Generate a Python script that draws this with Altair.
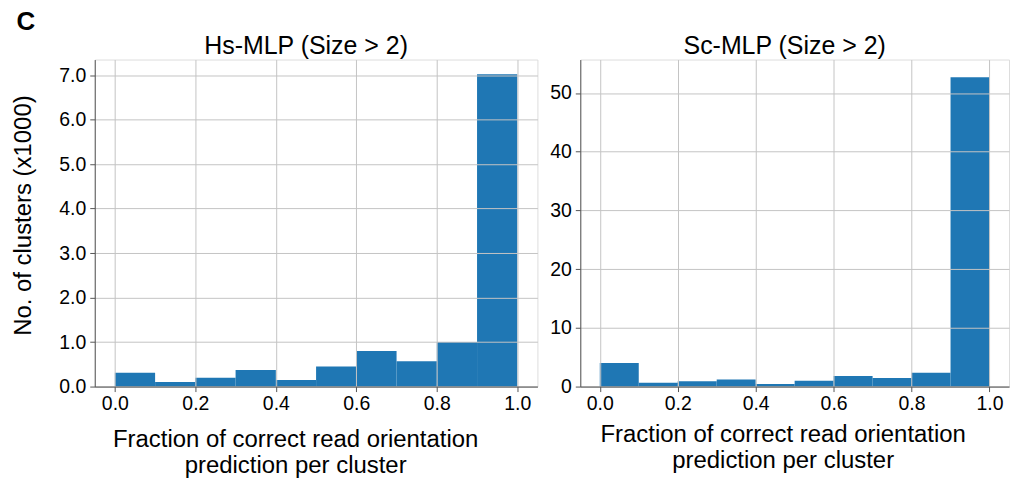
import altair as alt
import pandas as pd

# ---- data ----
bin_start = [0.0, 0.1, 0.2, 0.3, 0.4, 0.5, 0.6, 0.7, 0.8, 0.9]
bin_end = [0.1, 0.2, 0.3, 0.4, 0.5, 0.6, 0.7, 0.8, 0.9, 1.0]
hs_counts = [0.31, 0.105, 0.20, 0.37, 0.15, 0.45, 0.80, 0.57, 1.00, 7.02]   # x1000
sc_counts = [4.0, 0.63, 0.90, 1.20, 0.45, 1.00, 1.80, 1.47, 2.37, 52.7]
x_ticks = [0.0, 0.2, 0.4, 0.6, 0.8, 1.0]
hs_y_ticks = [0, 1, 2, 3, 4, 5, 6, 7]
sc_y_ticks = [0, 10, 20, 30, 40, 50]
hs_title = "Hs-MLP (Size > 2)"
sc_title = "Sc-MLP (Size > 2)"
x_title = ["Fraction of correct read orientation", "prediction per cluster"]
y_title = "No. of clusters (x1000)"
panel_label = "C"

FONT = "Liberation Sans"
BAR = "#1f77b4"
GRID = "#c4c4c4"
FRAME = "#555555"


def panel(counts, title, yticks, ymax, yfmt, w, h, ytitle, xtitle_x, xtitle_y, title_offset):
    df = pd.DataFrame({"start": bin_start, "end": bin_end, "count": counts})
    yaxis_kw = dict(values=yticks, format=yfmt, labelFontSize=19.5, labelFont=FONT,
                    labelColor="black", tickSize=5, tickColor=FRAME, labelPadding=4,
                    domainColor=FRAME, gridColor=GRID, gridWidth=1, zindex=1)
    if ytitle:
        yaxis_kw.update(title=ytitle, titleFontSize=24, titleFont=FONT, titleFontWeight="normal",
                        titleColor="black", titleX=-64, titleY=156, titleAngle=270,
                        titleBaseline="alphabetic", titleAlign="center")
    else:
        yaxis_kw.update(title=None)
    return (
        alt.Chart(df)
        .mark_bar(color=BAR)
        .encode(
            x=alt.X("start:Q",
                    scale=alt.Scale(domain=[-0.05, 1.05], nice=False, zero=False),
                    axis=alt.Axis(values=x_ticks, format=".1f", labelFontSize=19.5,
                                  labelFont=FONT, labelColor="black", tickSize=5,
                                  tickColor=FRAME, labelPadding=3, domainColor=FRAME,
                                  gridColor=GRID, gridWidth=1, zindex=1,
                                  title=x_title, titleFontSize=24, titleFont=FONT,
                                  titleFontWeight="normal", titleColor="black",
                                  titleX=xtitle_x, titleY=xtitle_y,
                                  titleBaseline="alphabetic",
                                  titleAlign="center", titleLineHeight=26)),
            x2="end:Q",
            y=alt.Y("count:Q",
                    scale=alt.Scale(domain=[0, ymax], nice=False),
                    axis=alt.Axis(**yaxis_kw)),
            y2=alt.datum(0),
        )
        .properties(
            width=w, height=h,
            title=alt.TitleParams(title, fontSize=25, font=FONT, fontWeight="normal",
                                  color="black", offset=title_offset, dx=-10,
                                  anchor="middle"),
        )
    )


left = panel(hs_counts, hs_title, hs_y_ticks, 7.35, ".1f", 444, 328, y_title, 201, 60, 1)
right = panel(sc_counts, sc_title, sc_y_ticks, 55.7, "d", 430, 328, None, 203, 55, 1)

chart = (
    alt.hconcat(left, right, spacing=10)
    .properties(
        padding={"left": 3, "top": 0, "right": 0, "bottom": 0},
        title=alt.TitleParams(panel_label, fontSize=26, font=FONT, fontWeight="bold",
                              color="black", anchor="start", offset=-2, dx=5,
                              baseline="top"),
    )
    .configure_view(stroke=FRAME, strokeWidth=1)
    .configure(background="white")
)

chart.save("out.html", embed_options={"renderer": "svg", "actions": False})
